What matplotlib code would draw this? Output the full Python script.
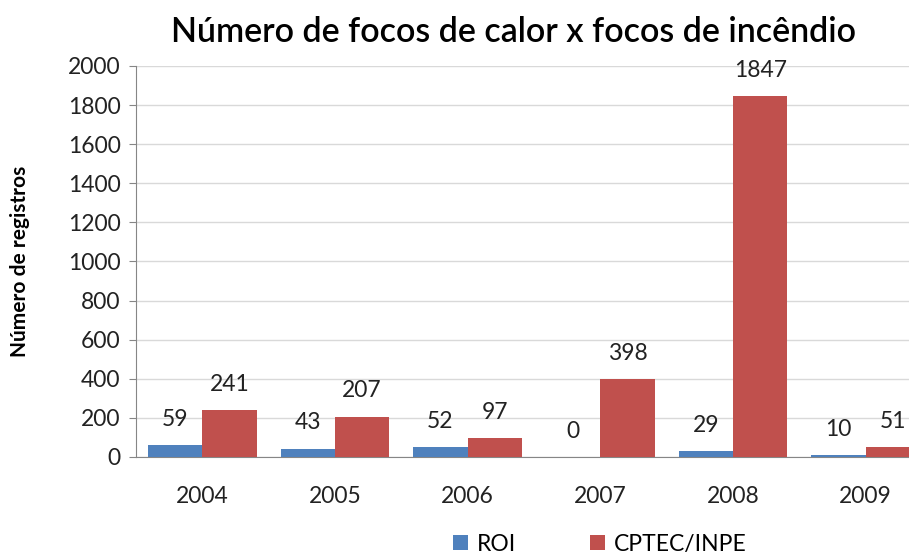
import numpy as np
import matplotlib.pyplot as plt

years = ['2004', '2005', '2006', '2007', '2008', '2009']
roi = [59, 43, 52, 0, 29, 10]
cptec = [241, 207, 97, 398, 1847, 51]

plt.rcParams['font.family'] = ['Lato', 'DejaVu Sans']

fig = plt.figure(figsize=(9.09, 5.53), dpi=100)
ax = fig.add_axes([0.1496, 0.1736, 0.8757, 0.7071])

x = np.arange(len(years))
w = 0.41
b1 = ax.bar(x - w / 2, roi, w, color='#4F81BD', label='ROI', zorder=3)
b2 = ax.bar(x + w / 2, cptec, w, color='#C0504D', label='CPTEC/INPE', zorder=3)

for bars, vals in [(b1, roi), (b2, cptec)]:
    for rect, v in zip(bars, vals):
        ax.annotate(str(v), (rect.get_x() + rect.get_width() / 2, v),
                    xytext=(0, 11), textcoords='offset points',
                    ha='center', va='bottom', fontsize=16.5, color='#222222')

ax.set_xlim(-0.5, 5.5)
ax.set_ylim(0, 2000)
ax.set_yticks(range(0, 2001, 200))
ax.set_xticks(x)
ax.set_xticklabels(years)
ax.tick_params(axis='x', length=0, labelsize=16.5, pad=21, colors='#222222')
ax.tick_params(axis='y', length=5, labelsize=16.5, colors='#222222',
               direction='out', pad=6)
ax.tick_params(axis='y', color='#868686')
ax.grid(axis='y', color='#D9D9D9', linewidth=1, zorder=0)
for s in ['top', 'right']:
    ax.spines[s].set_visible(False)
for s in ['left', 'bottom']:
    ax.spines[s].set_color('#868686')

ax.set_ylabel('Número de registros', fontsize=15, fontweight='bold')
ax.yaxis.set_label_coords(-0.133, 0.5)

fig.text(0.565, 0.943, 'Número de focos de calor x focos de incêndio',
         ha='center', va='center', fontsize=24.5, fontweight='semibold')

fig.legend(handles=[b1, b2], loc='center', bbox_to_anchor=(0.66, 0.016),
           ncol=2, frameon=False, fontsize=16.5, handlelength=0.65,
           handleheight=0.65, columnspacing=3.2, handletextpad=0.4)

fig.savefig('out.png', dpi=100)
